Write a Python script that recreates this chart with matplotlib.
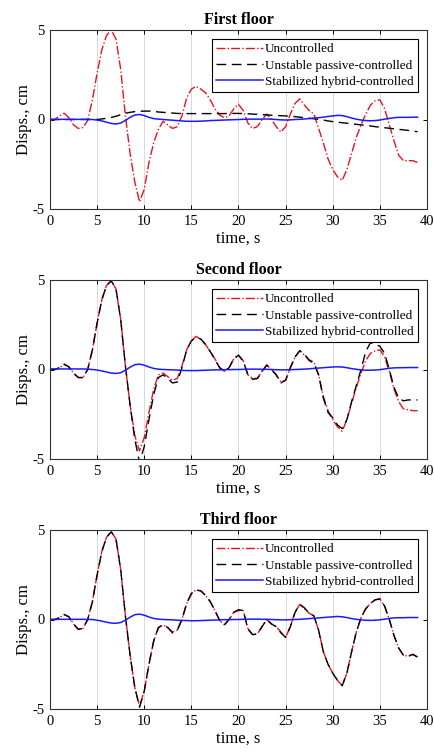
import numpy as np
import matplotlib
matplotlib.use("Agg")
import matplotlib.pyplot as plt

plt.rcParams['font.family'] = ['Liberation Serif', 'DejaVu Serif']
plt.rcParams['axes.unicode_minus'] = False

# time grid (s)
time = np.arange(0, 39.01, 0.5)

floor_titles = ["First floor", "Second floor", "Third floor"]
series_labels = ["Uncontrolled", "Unstable passive-controlled", "Stabilized hybrid-controlled"]

# ---- First floor (cm) ----
unc_1 = [0, 0, 0.2, 0.35, 0.1, -0.3, -0.5, -0.45, -0.05, 1.1,
         2.6, 3.9, 4.7, 5.0, 4.5, 2.8, 0.2, -1.9, -3.5, -4.6,
         -3.9, -2.4, -1.3, -0.55, -0.1, -0.3, -0.5, -0.4, 0.2, 1.2,
         1.7, 1.85, 1.7, 1.5, 1.1, 0.6, 0.25, 0.1, 0.2, 0.6,
         0.85, 0.5, -0.2, -0.5, -0.4, 0.0, 0.3, 0.0, -0.4, -0.7,
         -0.4, 0.3, 0.9, 1.15, 0.8, 0.5, 0.3, -0.5, -1.3, -2.2,
         -2.8, -3.2, -3.4, -2.8, -1.9, -1.0, -0.3, 0.3, 0.8, 1.05,
         1.1, 0.6, -0.3, -1.2, -2.0, -2.3, -2.3, -2.3, -2.4]
pas_1 = [0, 0, 0, 0, 0, 0, 0, 0, 0, 0,
         0, 0.03, 0.07, 0.12, 0.18, 0.27, 0.35, 0.4, 0.44, 0.46,
         0.47, 0.47, 0.45, 0.42, 0.4, 0.38, 0.36, 0.34, 0.33, 0.33,
         0.33, 0.33, 0.33, 0.33, 0.33, 0.33, 0.33, 0.33, 0.34, 0.34,
         0.34, 0.33, 0.32, 0.3, 0.29, 0.27, 0.26, 0.24, 0.23, 0.21,
         0.2, 0.18, 0.16, 0.13, 0.1, 0.07, 0.04, 0.01, -0.03, -0.08,
         -0.12, -0.15, -0.18, -0.21, -0.24, -0.27, -0.3, -0.33, -0.36, -0.4,
         -0.43, -0.46, -0.49, -0.52, -0.55, -0.58, -0.61, -0.65, -0.68]
hyb_1 = [0, 0, 0.01, 0.01, 0.01, 0.01, 0.01, 0.01, 0.01, 0.0,
         -0.03, -0.08, -0.15, -0.22, -0.25, -0.2, -0.05, 0.12, 0.25, 0.28,
         0.22, 0.12, 0.05, 0.02, 0.0, -0.02, -0.04, -0.06, -0.08, -0.1,
         -0.1, -0.1, -0.09, -0.08, -0.06, -0.05, -0.04, -0.03, -0.02, -0.01,
         0.0, 0.01, 0.02, 0.02, 0.02, 0.02, 0.03, 0.02, 0.0, -0.02,
         -0.03, -0.02, 0.0, 0.01, 0.03, 0.05, 0.08, 0.1, 0.13, 0.17,
         0.2, 0.23, 0.22, 0.16, 0.08, 0.02, -0.03, -0.06, -0.07, -0.06,
         -0.03, 0.02, 0.06, 0.1, 0.12, 0.12, 0.12, 0.13, 0.13]

# ---- Second floor (cm) ----
unc_2 = [0, 0, 0.1, 0.28, 0.15, -0.2, -0.45, -0.45, 0.0, 1.1,
         2.6, 3.9, 4.7, 4.95, 4.5, 2.8, 0.2, -2.0, -3.7, -4.55,
         -3.8, -2.4, -1.1, -0.3, -0.2, -0.4, -0.6, -0.5, 0.2, 1.1,
         1.6, 1.85, 1.7, 1.4, 1.0, 0.6, 0.1, -0.1, 0.1, 0.6,
         0.8, 0.5, -0.3, -0.5, -0.5, -0.1, 0.25, 0.0, -0.3, -0.7,
         -0.6, 0.1, 0.7, 1.05, 0.8, 0.55, 0.4, -0.3, -1.5, -2.3,
         -2.8, -3.2, -3.45, -2.8, -1.9, -1.0, -0.2, 0.5, 0.9, 1.05,
         1.1, 0.7, -0.1, -1.1, -1.8, -2.2, -2.25, -2.3, -2.3]
pas_2 = [0, 0, 0.1, 0.3, 0.15, -0.2, -0.45, -0.45, 0.0, 1.1,
         2.6, 3.9, 4.7, 4.95, 4.5, 2.8, 0.2, -2.0, -3.9, -5.2,
         -4.3, -2.8, -1.4, -0.45, -0.3, -0.5, -0.75, -0.7, 0.1, 1.1,
         1.6, 1.8, 1.7, 1.4, 1.0, 0.55, 0.1, -0.1, 0.1, 0.6,
         0.8, 0.45, -0.3, -0.55, -0.5, -0.1, 0.25, 0.0, -0.3, -0.75,
         -0.6, 0.1, 0.7, 1.05, 0.85, 0.5, 0.35, -0.3, -1.6, -2.4,
         -2.7, -3.1, -3.3, -2.8, -1.8, -0.9, 0.0, 1.0, 1.5, 1.4,
         1.3, 0.9, 0.0, -1.0, -1.6, -1.75, -1.7, -1.7, -1.7]
hyb_2 = [0.03, 0.03, 0.03, 0.03, 0.03, 0.03, 0.03, 0.03, 0.02, 0.0,
         -0.03, -0.08, -0.14, -0.2, -0.22, -0.18, -0.04, 0.13, 0.27, 0.3,
         0.24, 0.14, 0.06, 0.02, 0.0, -0.01, -0.02, -0.03, -0.05, -0.06,
         -0.06, -0.06, -0.05, -0.04, -0.03, -0.02, -0.02, -0.01, -0.01, 0.0,
         0.0, 0.01, 0.02, 0.02, 0.02, 0.01, 0.01, 0.0, -0.01, -0.02,
         -0.02, -0.01, 0.0, 0.01, 0.02, 0.04, 0.06, 0.08, 0.1, 0.12,
         0.14, 0.15, 0.14, 0.1, 0.05, 0.01, -0.02, -0.04, -0.04, -0.03,
         -0.01, 0.03, 0.07, 0.09, 0.1, 0.1, 0.11, 0.11, 0.11]

# ---- Third floor (cm) ----
unc_3 = [0, 0, 0.1, 0.28, 0.15, -0.25, -0.55, -0.5, 0.0, 1.0,
         2.5, 3.8, 4.6, 4.9, 4.5, 2.8, 0.2, -2.0, -3.8, -4.85,
         -4.0, -2.5, -1.2, -0.45, -0.3, -0.45, -0.7, -0.6, 0.0, 0.9,
         1.45, 1.65, 1.6, 1.35, 1.0, 0.5, -0.05, -0.3, 0.0, 0.4,
         0.5, 0.5, -0.5, -0.85, -0.8, -0.4, 0.0, -0.25, -0.4, -0.7,
         -1.0, -0.4, 0.4, 0.85, 0.6, 0.35, 0.2, -0.6, -1.8, -2.5,
         -3.0, -3.4, -3.7, -3.0, -1.8, -0.7, 0.1, 0.6, 0.9, 1.1,
         1.15, 0.75, 0.0, -0.9, -1.6, -2.0, -2.05, -1.95, -2.1]
pas_3 = [0, 0, 0.1, 0.28, 0.15, -0.25, -0.55, -0.5, 0.0, 1.0,
         2.5, 3.8, 4.6, 4.9, 4.5, 2.8, 0.2, -2.0, -3.8, -4.9,
         -4.0, -2.5, -1.2, -0.45, -0.3, -0.45, -0.75, -0.6, 0.0, 0.9,
         1.45, 1.65, 1.6, 1.35, 1.0, 0.5, -0.05, -0.3, 0.0, 0.4,
         0.55, 0.5, -0.55, -0.85, -0.8, -0.4, 0.0, -0.25, -0.4, -0.75,
         -1.0, -0.4, 0.4, 0.85, 0.65, 0.35, 0.2, -0.6, -1.8, -2.5,
         -3.0, -3.4, -3.7, -3.0, -1.8, -0.7, 0.1, 0.6, 0.9, 1.1,
         1.15, 0.75, 0.0, -0.9, -1.6, -2.0, -2.05, -1.95, -2.1]
hyb_3 = [0.0, 0.0, 0.01, 0.01, 0.01, 0.01, 0.01, 0.01, 0.0, 0.0,
         -0.04, -0.09, -0.15, -0.2, -0.21, -0.17, -0.04, 0.13, 0.27, 0.3,
         0.24, 0.14, 0.06, 0.02, 0.0, -0.01, -0.02, -0.04, -0.05, -0.06,
         -0.07, -0.07, -0.06, -0.05, -0.04, -0.03, -0.02, -0.01, -0.01, 0.0,
         0.0, 0.01, 0.02, 0.02, 0.02, 0.01, 0.01, 0.0, -0.01, -0.02,
         -0.02, -0.01, 0.0, 0.01, 0.03, 0.05, 0.07, 0.09, 0.11, 0.13,
         0.15, 0.17, 0.15, 0.11, 0.05, 0.01, -0.02, -0.04, -0.05, -0.04,
         -0.02, 0.02, 0.06, 0.09, 0.1, 0.1, 0.11, 0.11, 0.11]

uncontrolled = [unc_1, unc_2, unc_3]
passive = [pas_1, pas_2, pas_3]
hybrid = [hyb_1, hyb_2, hyb_3]

x_ticks = [0, 5, 10, 15, 20, 25, 30, 35, 40]
y_ticks = [-5, 0, 5]

fig = plt.figure(figsize=(4.35, 7.53), dpi=100)
left, width, height = 50 / 435, 377 / 435, 179 / 753
bottoms = [1 - 209 / 753, 1 - 459 / 753, 1 - 709 / 753]

for i in range(3):
    ax = fig.add_axes([left, bottoms[i], width, height])
    ax.plot(time, uncontrolled[i], color='#e8121e', linestyle='-.', linewidth=1.0,
            label=series_labels[0])
    ax.plot(time, passive[i], color='black', linestyle=(0, (7, 4)), linewidth=1.0,
            label=series_labels[1])
    ax.plot(time, hybrid[i], color='#1a1aff', linestyle='-', linewidth=1.1,
            label=series_labels[2])
    ax.set_xlim(0, 40)
    ax.set_ylim(-5, 5)
    ax.set_xticks(x_ticks)
    ax.set_yticks(y_ticks)
    ax.grid(axis='x', color='#d9d9d9', linewidth=0.7)
    ax.set_axisbelow(True)
    ax.tick_params(direction='in', top=True, right=True, length=3,
                   labelsize=10.5, width=0.7, pad=4)
    for s in ax.spines.values():
        s.set_linewidth(0.8)
        s.set_color('#333333')
    ax.set_title(floor_titles[i], fontsize=11.5, fontweight='bold', pad=4)
    ax.set_xlabel('time, s', fontsize=12, labelpad=2)
    ax.set_ylabel('Disps., cm', fontsize=12, labelpad=0)
    leg = ax.legend(loc='upper right', fontsize=9.5, handlelength=3.5,
                    handletextpad=0.2, borderpad=0.3, labelspacing=0.3,
                    borderaxespad=0.7, fancybox=False, framealpha=1)
    leg.get_frame().set_edgecolor('black')
    leg.get_frame().set_linewidth(0.8)

fig.savefig('out.png', dpi=100)
